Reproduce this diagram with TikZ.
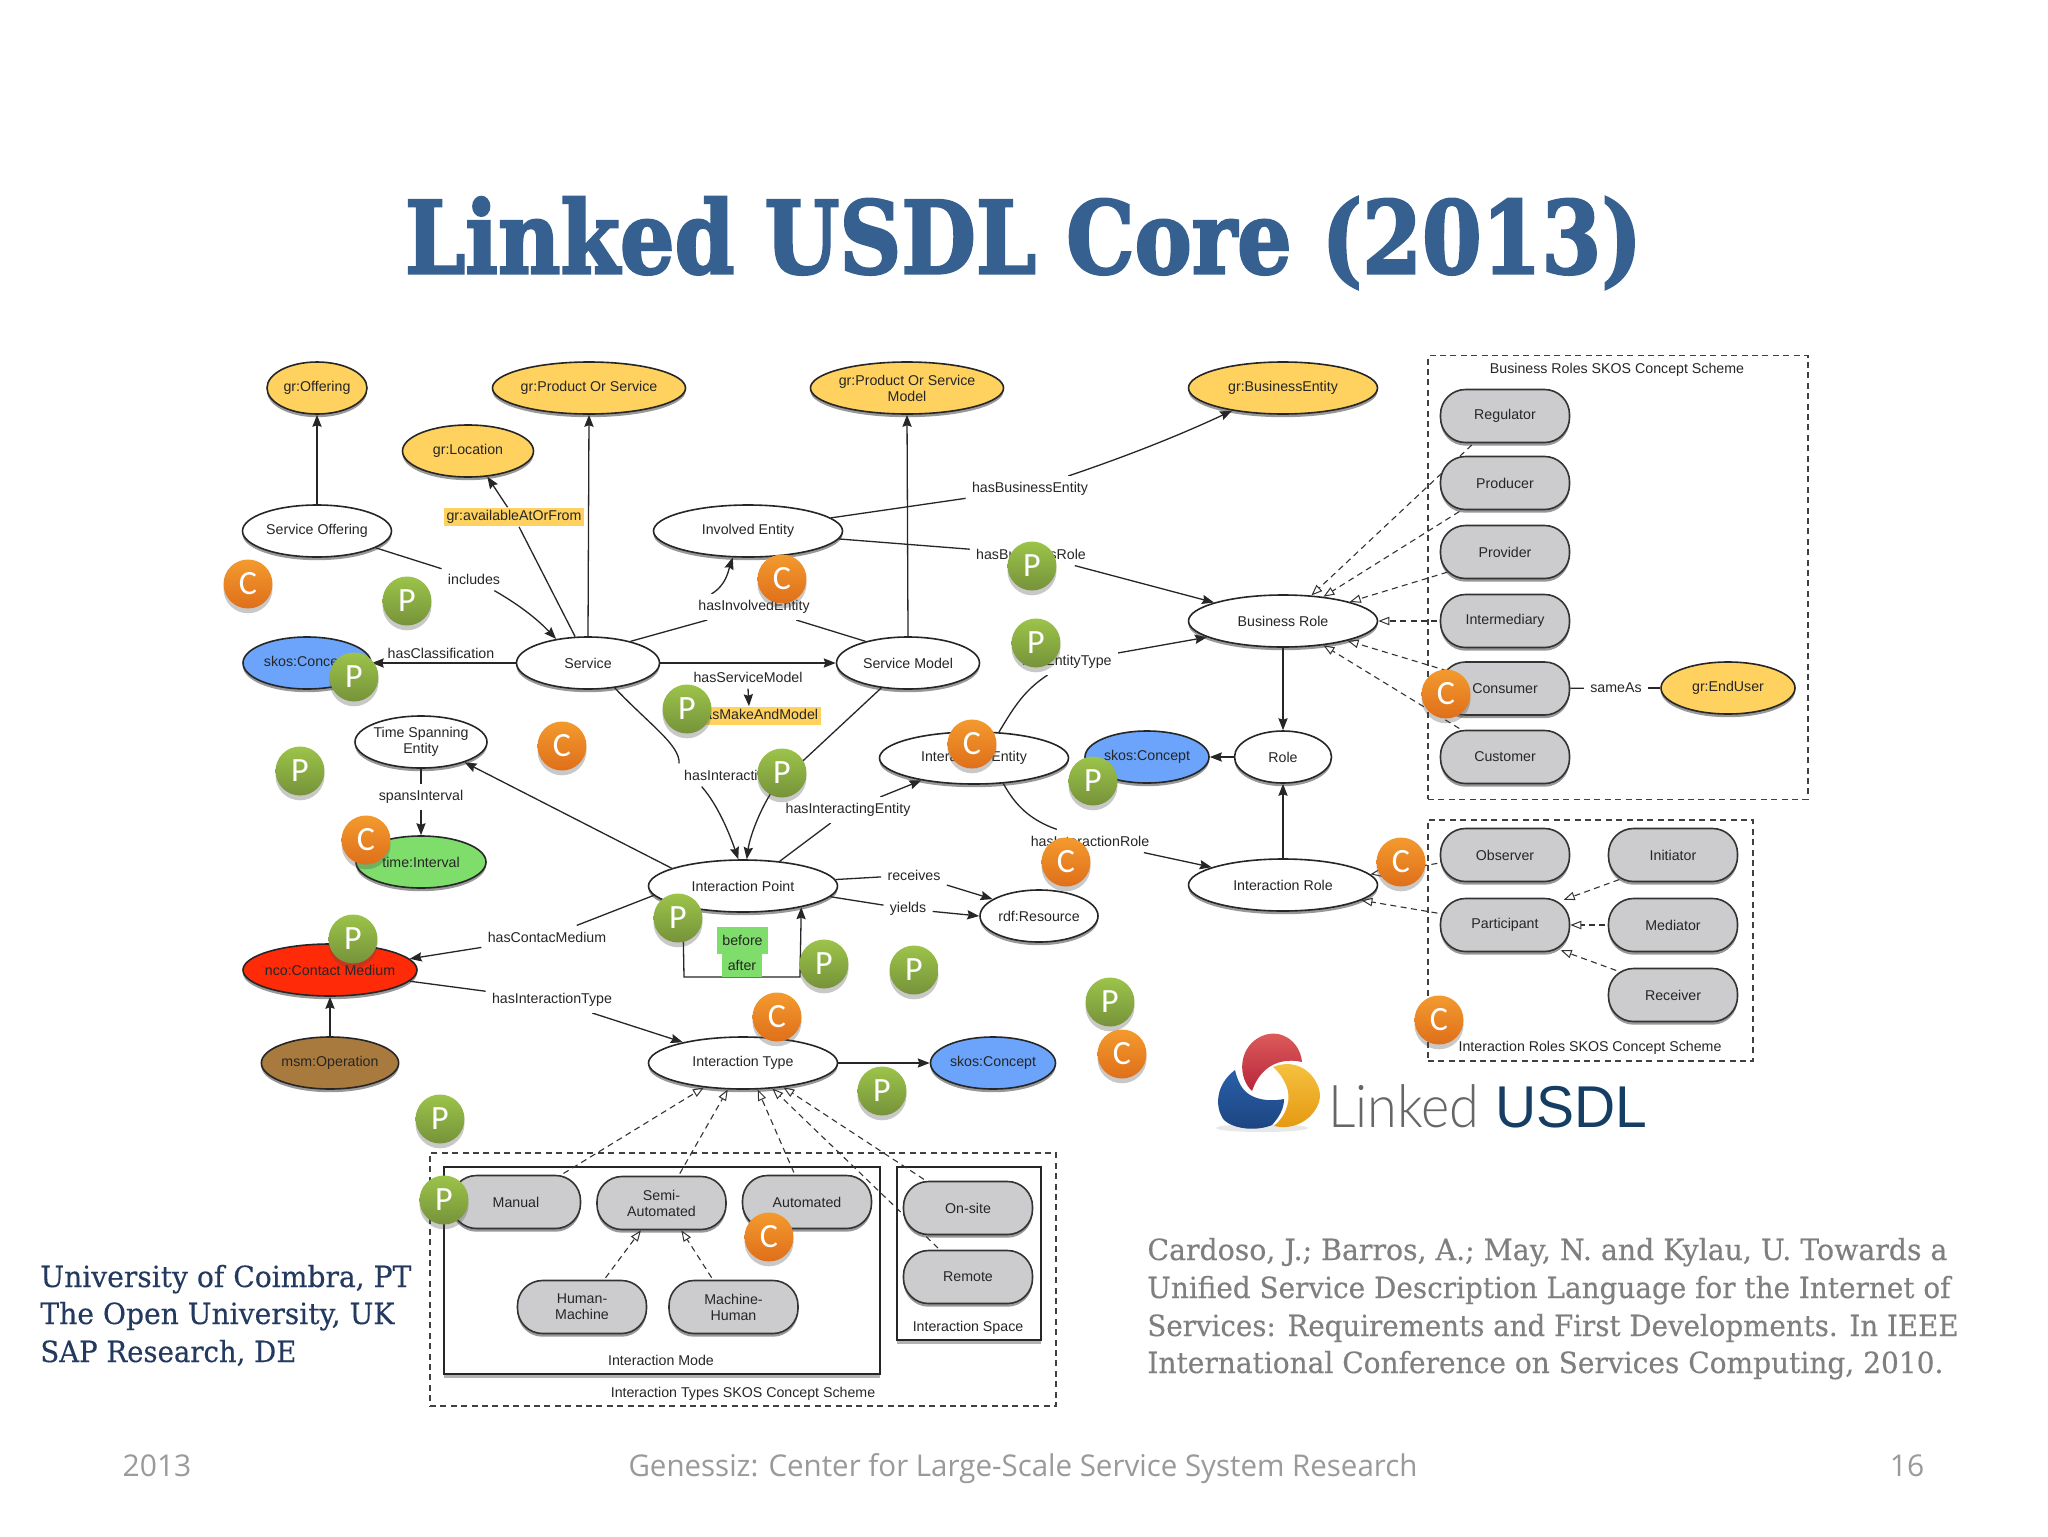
\documentclass[tikz,border=0pt]{standalone}
\usepackage{graphicx}
\usepackage{fontspec}
\setmainfont{Liberation Sans}
\newfontfamily\slabf{DejaVu Serif}[FakeBold=0.3]
\newfontfamily\titlef{DejaVu Serif}[UprightFont=* Bold,FakeBold=2.5]
\newfontfamily\footf{Open Sans}
\newfontfamily\markf{Carlito}
\newfontfamily\thinf{Lato Light}
\usetikzlibrary{shapes.geometric,shadows,arrows.meta}
\pgfdeclarelayer{back}\pgfdeclarelayer{edges}\pgfdeclarelayer{top}
\pgfsetlayers{back,edges,main,top}
\definecolor{ygold}{HTML}{FFD25F}
\definecolor{sblue}{HTML}{6BA4FA}
\definecolor{tgreen}{HTML}{7FDD6B}
\definecolor{nred}{HTML}{FF2A08}
\definecolor{mbrown}{HTML}{A97A3E}
\definecolor{rgrey}{HTML}{CCCCCE}
\definecolor{titleblue}{HTML}{36608F}
\definecolor{slabblue}{HTML}{23395F}
\definecolor{cite}{HTML}{7F7F7F}
\definecolor{footg}{HTML}{9A9A9A}
\definecolor{pgreen}{HTML}{9CC34A}
\definecolor{pgreenb}{HTML}{76933A}
\definecolor{corange}{HTML}{F39A2E}
\definecolor{corangeb}{HTML}{DF6F1A}
\definecolor{blogoT}{HTML}{2A5FA8}
\definecolor{blogoB}{HTML}{1C4480}
\definecolor{ylogoT}{HTML}{F7C644}
\definecolor{ylogoB}{HTML}{E4960F}
\definecolor{rlogoT}{HTML}{E2615F}
\definecolor{rlogoB}{HTML}{B6263A}
\definecolor{usdlb}{HTML}{163D63}
\newcommand{\fitw}[2]{\resizebox{#1}{\height}{#2}}
\newcommand{\labf}{\fontsize{7.1}{8}\selectfont}
\tikzset{
  shd/.style={drop shadow={shadow xshift=0pt,shadow yshift=-1.6pt,opacity=.5,fill=black!80}},
  ell/.style={ellipse,draw=black!85,line width=.8pt,minimum height=26pt,inner sep=0pt,align=center,font=\labf,fill=white,text=black!85,shd},
  rnd/.style={rectangle,rounded corners=12.5pt,draw=black!80,line width=.8pt,minimum width=64.5pt,minimum height=26.5pt,inner sep=0pt,align=center,font=\labf,fill=rgrey,text=black!85,shd},
  lbl/.style={fill=white,inner sep=3pt,font=\labf,text=black!85},
  hl/.style={fill=ygold,inner sep=1.4pt,font=\labf,text=black!85},
  txt/.style={inner sep=0pt,font=\labf,text=black!85,align=center},
  conn/.style={draw=black!85,line width=.65pt},
  arr/.style={conn,-{Stealth[length=6pt,width=4.6pt,inset=.8pt]}},
  dsh/.style={draw=black!80,line width=.55pt,dash pattern=on 3pt off 2.2pt,shorten <=-4pt,-{Triangle[fill=white,length=5.5pt,width=4.2pt,line width=.5pt]}},
  dbox/.style={rectangle,draw=black!75,line width=.65pt,dash pattern=on 3pt off 2.2pt,inner sep=0pt},
  sbox/.style={rectangle,draw=black!85,line width=.8pt,fill=white,inner sep=0pt,drop shadow={shadow xshift=0pt,shadow yshift=-2pt,opacity=.4,fill=black!75}},
  mk/.style={circle,minimum size=24.5pt,inner sep=0pt,text=white,font=\markf\fontsize{17}{17}\selectfont,drop shadow={shadow xshift=0pt,shadow yshift=-2.4pt,opacity=.3,fill=black!70}},
  P/.style={mk,top color=pgreen,bottom color=pgreenb},
  C/.style={mk,top color=corange,bottom color=corangeb},
}
\begin{document}
\begin{tikzpicture}[x=.5pt,y=-.5pt]
\useasboundingbox (0,0) rectangle (2048,1536);
\begin{pgfonlayer}{back}
\fill[white] (0,0) rectangle (2048,1536);
\node[dbox,minimum width=190pt,minimum height=221.75pt] (bbox) at (1618,577.5) {};
\node[dbox,minimum width=162.5pt,minimum height=120.5pt] (ibox) at (1590.5,940.5) {};
\node[dbox,minimum width=313pt,minimum height=126.5pt] (tbox) at (743,1279.5) {};
\node[sbox,minimum width=218.25pt,minimum height=103.5pt] (mbox) at (662,1270.5) {};
\node[sbox,minimum width=72pt,minimum height=86.5pt] (sbox) at (969,1253.5) {};
\end{pgfonlayer}

% text of the slide
\node[inner sep=0pt,text=titleblue] (title) at (1023.5,243) {\resizebox*{618.5pt}{46pt}{\titlef\fontsize{40}{48}\selectfont Linked USDL Core (2013)}};
\begin{scope}[every node/.style={anchor=base west,inner sep=0pt}]
\node[text=slabblue,font=\slabf\fontsize{14.6}{17}\selectfont] (u1) at (40,1287) {\fitw{185.5pt}{University of Coimbra, PT}};
\node[text=slabblue,font=\slabf\fontsize{14.6}{17}\selectfont] (u2) at (40,1324) {\fitw{177pt}{The Open University, UK}};
\node[text=slabblue,font=\slabf\fontsize{14.6}{17}\selectfont] (u3) at (40,1362) {\fitw{128pt}{SAP Research, DE}};
\node[text=cite,font=\slabf\fontsize{14.6}{17}\selectfont] (c1) at (1147,1260) {\fitw{400pt}{Cardoso, J.; Barros, A.; May, N. and Kylau, U. Towards a}};
\node[text=cite,font=\slabf\fontsize{14.6}{17}\selectfont] (c2) at (1147,1298) {\fitw{401.5pt}{Unified Service Description Language for the Internet of}};
\node[text=cite,font=\slabf\fontsize{14.6}{17}\selectfont] (c3) at (1147,1336) {\fitw{405.5pt}{Services: Requirements and First Developments. In IEEE}};
\node[text=cite,font=\slabf\fontsize{14.6}{17}\selectfont] (c4) at (1147,1373) {\fitw{398pt}{International Conference on Services Computing, 2010.}};
\end{scope}
\node[anchor=base,inner sep=0pt,text=footg,font=\footf\fontsize{15}{18}\selectfont] (f1) at (157,1476) {2013};
\node[anchor=base,inner sep=0pt,text=footg,font=\footf\fontsize{15}{18}\selectfont] (f2) at (1023,1476) {\fitw{394.5pt}{Genessiz: Center for Large-Scale Service System Research}};
\node[anchor=base,inner sep=0pt,text=footg,font=\footf\fontsize{15}{18}\selectfont] (f3) at (1907,1476) {16};

% ellipses
\node[ell,fill=ygold,minimum width=50pt] (off) at (317,388) {gr:Offering};
\node[ell,fill=ygold,minimum width=94.5pt] (pos) at (589,388) {gr:Product Or Service};
\node[ell,fill=ygold,minimum width=65.5pt] (loc) at (468,451) {gr:Location};
\node[ell,fill=ygold,minimum width=94.5pt] (posm) at (907,388) {gr:Product Or Service\\Model};
\node[ell,fill=ygold,minimum width=94.5pt] (be) at (1283,388) {gr:BusinessEntity};
\node[ell,minimum width=74.5pt] (so) at (317,531) {Service Offering};
\node[ell,minimum width=94.5pt] (ie) at (748,531) {Involved Entity};
\node[ell,minimum width=71.5pt] (svc) at (588,663) {Service};
\node[ell,fill=sblue,minimum width=64pt] (sk1) at (307,663) {skos:Concept};
\node[ell,minimum width=71.5pt] (sm) at (908,663) {Service Model};
\node[ell,minimum width=94.5pt] (br) at (1283,621) {Business Role};
\node[ell,minimum width=48.5pt] (role) at (1283,757) {Role};
\node[ell,fill=sblue,minimum width=62pt] (sk2) at (1147,757) {skos:Concept};
\node[ell,minimum width=94.5pt] (ent) at (974,758) {Interacting Entity};
\node[ell,minimum width=66pt] (tse) at (421,742) {\makebox[0pt]{Time Spanning}\\\makebox[0pt]{Entity}};
\node[ell,fill=tgreen,minimum width=65pt] (ti) at (421,862) {time:Interval};
\node[ell,minimum width=94.5pt] (ip) at (743,886) {Interaction Point};
\node[ell,fill=nred,minimum width=87pt] (nco) at (330,970) {\makebox[0pt]{nco:Contact Medium}};
\node[ell,fill=mbrown,minimum width=68.5pt] (msm) at (330,1063) {msm:Operation};
\node[ell,minimum width=94.5pt] (it) at (743,1063) {Interaction Type};
\node[ell,minimum width=59pt] (rdf) at (1039,916) {rdf:Resource};
\node[ell,minimum width=94.5pt] (ir) at (1283,885) {Interaction Role};
\node[ell,fill=sblue,minimum width=62.5pt] (sk3) at (993,1063) {skos:Concept};
\node[ell,fill=ygold,minimum width=67pt] (eu) at (1728,688) {gr:EndUser};

% rounded concepts
\node[rnd] (reg) at (1505,416) {Regulator};
\node[rnd] (pro) at (1505,483) {Producer};
\node[rnd] (prv) at (1505,552) {Provider};
\node[rnd] (int) at (1505,621) {Intermediary};
\node[rnd] (con) at (1505,688.5) {Consumer};
\node[rnd] (cus) at (1505,757) {Customer};
\node[rnd] (obs) at (1505,855) {Observer};
\node[rnd] (par) at (1505,925) {Participant};
\node[rnd] (ini) at (1673,855) {Initiator};
\node[rnd] (med) at (1673,925) {Mediator};
\node[rnd] (rec) at (1673,995) {Receiver};
\node[rnd] (man) at (516,1202) {Manual};
\node[rnd] (sem) at (661.5,1203) {Semi-\\Automated};
\node[rnd] (aut) at (807,1202) {Automated};
\node[rnd] (hm) at (582,1307) {Human-\\Machine};
\node[rnd] (mh) at (733.5,1307) {Machine-\\Human};
\node[rnd] (ons) at (968,1208) {On-site};
\node[rnd] (rem) at (968,1277) {Remote};

% edge labels
\node[lbl] (lInc) at (474,579) {includes};
\node[hl] (lAv) at (514,517) {gr:availableAtOrFrom};
\node[lbl] (lInv) at (754,607) {hasInvolvedEntity};
\node[lbl,fill=none] (lSM) at (748,677) {hasServiceModel};
\node[hl] (lMM) at (749,716) {gr:hasMakeAndModel};
\node[lbl,fill=none] (lCl) at (441,653) {hasClassification};
\node[lbl] (lBE) at (1030,489) {hasBusinessEntity};
\node[lbl] (lBR) at (1031,554) {hasBusinessRole};
\node[lbl] (lET) at (1067,662) {hasEntityType};
\node[lbl] (lIP) at (745,775) {hasInteractionPoint};
\node[lbl] (lSp) at (421,797) {spansInterval};
\node[lbl] (lIE) at (848,810) {hasInteractingEntity};
\node[lbl] (lIR) at (1090,841) {hasInteractionRole};
\node[lbl] (lRc) at (914,875) {receives};
\node[lbl] (lYi) at (908,909) {yields};
\node[lbl] (lCM) at (547,937) {hasContacMedium};
\node[lbl] (lIT) at (552,1000) {hasInteractionType};
\node[lbl] (lSa) at (1616,688) {sameAs};
\node[inner sep=0pt,fill=tgreen,minimum width=25.5pt,minimum height=13.5pt,font=\labf,text=black!85] (bef) at (742.5,940.5) {before};
\node[inner sep=0pt,fill=tgreen,minimum width=20pt,minimum height=11.5pt,font=\labf,text=black!85] (aft) at (742,965.5) {after};

% box titles
\node[txt] (tb) at (1617,370) {Business Roles SKOS Concept Scheme};
\node[txt] (ti2) at (1590,1048) {Interaction Roles SKOS Concept Scheme};
\node[txt] (tt) at (743,1394) {Interaction Types SKOS Concept Scheme};
\node[txt] (tm) at (661,1360) {Interaction Mode};
\node[txt] (ts) at (968,1328) {Interaction Space};

\coordinate (loopA) at (684,977);
\coordinate (loopB) at (800,977);

\begin{pgfonlayer}{edges}
\draw[arr] (so) -- (off);
\draw[arr] (svc.north) -- (pos.south);
\draw[arr] (sm.north) -- (posm.south);
\draw[conn] (so.-16) -- (lInc);
\draw[arr] (lInc) .. controls (523,607) and (540,622) .. (svc.143);
\draw[conn] (svc.116) -- (lAv);
\draw[arr] (lAv) -- (loc.-53);
\draw[conn] (svc.27) -- (lInv);
\draw[conn] (sm.153) -- (lInv);
\draw[arr] (lInv.163) .. controls (726,585) and (728,572) .. (ie.-120);
\draw[arr] (svc.east) -- (sm.west);
\draw[arr] (lSM.south) -- (lMM.north);
\draw[arr] (svc.west) -- (sk1.east);
\draw[conn] (ie.9) -- (lBE);
\draw[arr] (lBE) .. controls (1130,455) and (1180,435) .. (be.-156);
\draw[conn] (ie.-5) -- (lBR);
\draw[arr] (lBR) -- (br.165);
\draw[conn] (ent.46) .. controls (1015,705) and (1025,690) .. (lET);
\draw[arr] (lET) -- (br.-168);
\draw[conn] (ent.-41) .. controls (1015,805) and (1030,820) .. (lIR);
\draw[arr] (lIR) -- (ir.166);
\draw[conn] (svc.-43) .. controls (650,725) and (680,745) .. (lIP.170);
\draw[arr] (lIP.-165) .. controls (718,805) and (730,835) .. (ip.100);
\draw[conn] (sm.-137) -- (lIP.-21);
\draw[arr] (lIP.-21) .. controls (762,805) and (750,835) .. (ip.82);
\draw[conn] (ip.34) -- (lIE);
\draw[arr] (lIE) -- (ent.-157);
\draw[arr] (ip.166) -- (tse.-25);
\draw[conn] (tse.south) -- (lSp);
\draw[arr] (lSp) -- (ti.north);
\draw[conn] (ip.186) -- (lCM);
\draw[arr] (lCM) -- (nco.8);
\draw[conn] (nco.-8) -- (lIT);
\draw[arr] (lIT) -- (it.161);
\draw[arr] (msm) -- (nco);
\draw[conn] (ip.4) -- (lRc);
\draw[arr] (lRc) -- (rdf.160);
\draw[conn] (ip.-7) -- (lYi);
\draw[arr] (lYi) -- (rdf.west);
\draw[arr] (ip.-161) -- (loopA) -- (loopB) -- (ip.-20);
\draw[arr] (it) -- (sk3);
\draw[arr] (br) -- (role);
\draw[arr] (ir) -- (role);
\draw[arr] (role) -- (sk2);
\draw[conn] (con) -- (lSa);
\draw[conn] (lSa) -- (eu);
\draw[dsh] (reg.-139) -- (br.42);
\draw[dsh] (pro.-148) -- (br.31);
\draw[dsh] (prv.-161) -- (br.16);
\draw[dsh] (int) -- (br);
\draw[dsh] (con.163) -- (br.-17);
\draw[dsh] (cus.148) -- (br.-31);
\draw[dsh] (obs.-173) -- (ir.7);
\draw[dsh] (par.170) -- (ir.-11);
\draw[dsh,shorten >=-3pt] (ini.-156) -- (par.23);
\draw[dsh] (med) -- (par);
\draw[dsh,shorten >=-3pt] (rec.157) -- (par.-24);
\draw[dsh] (man.31) -- (it.-148);
\draw[dsh] (sem.58) -- (it.-120);
\draw[dsh] (aut.114) -- (it.-61);
\draw[dsh] (rem.136) -- (it.-41);
\draw[dsh] (ons.147) -- (it.-31);
\draw[dsh] (hm.51) -- (sem.-127);
\draw[dsh] (mh.127) -- (sem.-54);
\end{pgfonlayer}

% logo
\fill[black!25,opacity=.35] (1262,1128) ellipse [x radius=46,y radius=4];
\path[top color=blogoT,bottom color=blogoB] (1235,1070) .. controls (1216,1084) and (1214,1107) .. (1224,1120) .. controls (1235,1130) and (1258,1131) .. (1272,1125) .. controls (1280,1116) and (1284,1108) .. (1284,1099) .. controls (1268,1102) and (1248,1100) .. (1240,1084) .. controls (1238,1080) and (1236,1075) .. (1235,1070) -- cycle;
\path[top color=ylogoT,bottom color=ylogoB] (1273,1067) .. controls (1300,1056) and (1319,1078) .. (1320,1095) .. controls (1320,1112) and (1300,1132) .. (1274,1126) .. controls (1287,1115) and (1292,1098) .. (1286,1085) .. controls (1283,1078) and (1279,1072) .. (1273,1067) -- cycle;
\path[top color=rlogoT,bottom color=rlogoB] (1252,1091) .. controls (1238,1078) and (1238,1050) .. (1258,1038) .. controls (1278,1026) and (1300,1040) .. (1302,1062) .. controls (1285,1058) and (1262,1062) .. (1252,1091) -- cycle;
\node[anchor=base west,inner sep=0pt,text=black!60,font=\thinf\fontsize{29.5}{30}\selectfont] (lk) at (1328,1127) {\fitw{75.5pt}{Linked}};
\node[anchor=base west,inner sep=0pt,text=usdlb,font=\fontsize{29.5}{30}\selectfont] (us) at (1495,1127) {\fitw{76pt}{USDL}};

\begin{pgfonlayer}{top}
\foreach \n/\x/\y in {c1/248/584,c2/782/579,c3/562/746,c4/972/744,c5/1446/694,c6/366/840,c7/1066/862,c8/1401/862,c9/777/1017,c10/1439/1020,c11/1122/1054,c12/769/1237}
  \node[C] (\n m) at (\x,\y) {C};
\foreach \n/\x/\y in {p1/407/601,p2/354/677,p3/687/709,p4/1032/566,p5/1036/643,p6/300/771,p7/782/773,p8/1093/781,p9/353/939,p10/678/918,p11/824/964,p12/914/970,p13/1110/1002,p14/882/1091,p15/440/1119,p16/444/1200}
  \node[P] (\n m) at (\x,\y) {P};
\end{pgfonlayer}
\end{tikzpicture}
\end{document}
